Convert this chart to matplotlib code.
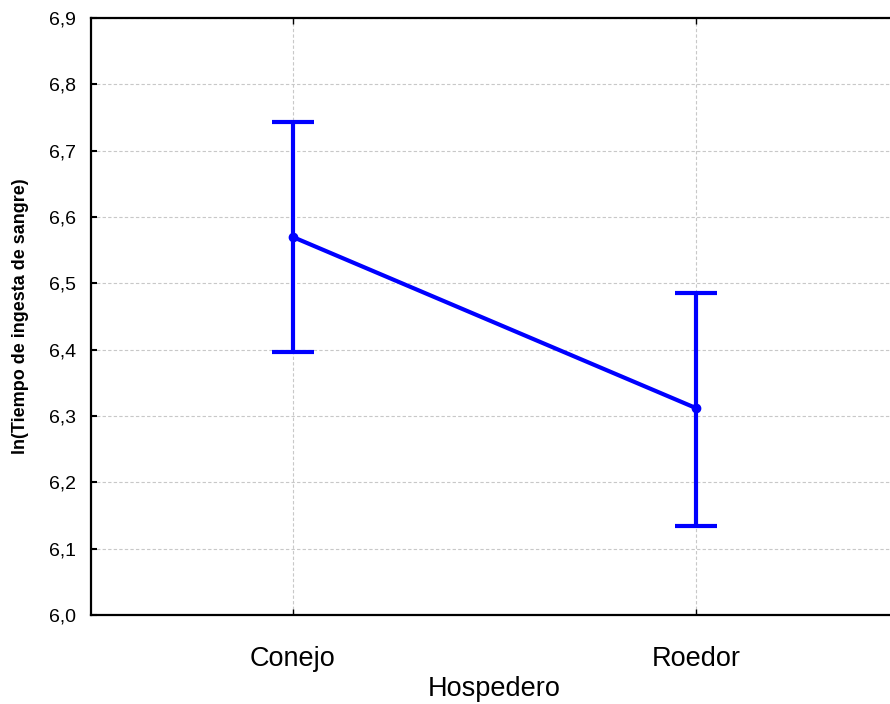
import matplotlib
matplotlib.use('Agg')
import matplotlib.pyplot as plt
import numpy as np
from matplotlib.ticker import FuncFormatter

plt.rcParams['font.family'] = ['Liberation Sans', 'DejaVu Sans']

# datos
hospedero = ['Conejo', 'Roedor']
medias = [6.570, 6.312]
ic_inf = [6.396, 6.134]
ic_sup = [6.743, 6.486]

x = np.arange(len(hospedero))
err = [np.array(medias) - np.array(ic_inf), np.array(ic_sup) - np.array(medias)]

fig = plt.figure(figsize=(8.9, 7.04), dpi=100)
ax = fig.add_axes([91 / 890, 89 / 704, 806.5 / 890, 597 / 704])

ax.errorbar(x, medias, yerr=err, color='#0000ff', lw=3, capsize=15, capthick=3,
            marker='o', ms=6, zorder=3)

ax.set_xlim(-0.5, 1.5)
ax.set_ylim(6.0, 6.9)
ax.set_yticks(np.arange(6.0, 6.91, 0.1))
ax.yaxis.set_major_formatter(FuncFormatter(lambda v, p: ('%.1f' % v).replace('.', ',')))
ax.set_xticks(x)
ax.set_xticklabels(hospedero, fontsize=19.5)
ax.tick_params(axis='y', labelsize=14, direction='in', length=4, width=1.5, pad=11)
ax.tick_params(axis='x', direction='in', length=4, width=1, pad=22, top=True)

ax.grid(True, color='#c8c8c8', linestyle=(0, (3, 2)), lw=0.8)
ax.set_axisbelow(True)
for s in ax.spines.values():
    s.set_linewidth(1.6)

ax.set_xlabel('Hospedero', fontsize=19.5, labelpad=3)
ax.set_ylabel('ln(Tiempo de ingesta de sangre)', fontsize=13, fontweight='bold', labelpad=14)

fig.savefig('out.png', dpi=100)
